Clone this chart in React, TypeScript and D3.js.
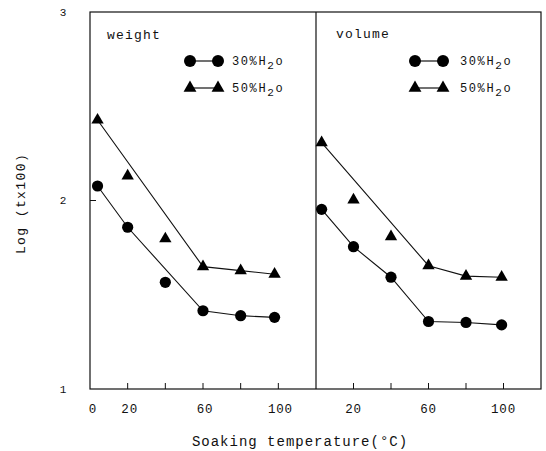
import React, { useEffect, useRef } from 'react';
import * as d3 from 'd3';

// soaking temperatures (°C)
const weightTemps = [4, 20, 40, 60, 80, 98];
const volumeTemps = [3, 20, 40, 60, 80, 99];

// Log(t x 100)
const weight30 = [2.077, 1.858, 1.566, 1.415, 1.389, 1.38];
const weight50 = [2.427, 2.13, 1.797, 1.649, 1.628, 1.609];
const volume30 = [1.953, 1.755, 1.593, 1.358, 1.353, 1.34];
const volume50 = [2.307, 2.003, 1.808, 1.654, 1.599, 1.593];

// which points the drawn (fitted) line runs through
const weight30Fit = [0, 1, 3, 4, 5];
const weight50Fit = [0, 3, 4, 5];
const volume30Fit = [0, 1, 2, 3, 4, 5];
const volume50Fit = [0, 3, 4, 5];

const xTicks = [20, 40, 60, 80, 100];
const leftTickLabels = [0, 20, 60, 100];
const rightTickLabels = [20, 60, 100];
const yTickLabels = [1, 2, 3];
const legendLabels = ['30%H', '50%H'];

const W = 546;
const H = 451;
const MONO = '"Liberation Mono", "DejaVu Sans Mono", monospace';

function App() {
  const svgRef = useRef<SVGSVGElement>(null);

  useEffect(() => {
    const svg = d3.select(svgRef.current);
    svg.selectAll('*').remove();

    const top = 12, bottom = 389, left = 90, mid = 316, right = 541;
    const y = d3.scaleLinear().domain([1, 3]).range([bottom, top]);
    const xL = d3.scaleLinear().domain([0, 120]).range([left, mid]);
    const xR = d3.scaleLinear().domain([0, 120]).range([mid, right]);

    const g = svg.append('g');

    // frame + divider
    g.append('rect')
      .attr('x', left).attr('y', top)
      .attr('width', right - left).attr('height', bottom - top)
      .attr('fill', 'none').attr('stroke', '#111').attr('stroke-width', 1.2);
    g.append('line')
      .attr('x1', mid).attr('x2', mid).attr('y1', top).attr('y2', bottom)
      .attr('stroke', '#111').attr('stroke-width', 1.2);

    // x ticks (inward)
    [xL, xR].forEach(x => {
      g.selectAll(null).data(xTicks).enter().append('line')
        .attr('x1', d => x(d)).attr('x2', d => x(d))
        .attr('y1', bottom).attr('y2', bottom - 6)
        .attr('stroke', '#111').attr('stroke-width', 1);
    });
    // y tick at 2
    g.append('line')
      .attr('x1', left).attr('x2', left + 6)
      .attr('y1', y(2)).attr('y2', y(2))
      .attr('stroke', '#111').attr('stroke-width', 1);

    // tick labels
    const tickText = (sel: any) => sel
      .attr('font-family', MONO).attr('font-size', 12.5)
      .attr('letter-spacing', 0.8).attr('fill', '#111')
      .attr('text-anchor', 'middle').attr('dy', '0.35em');
    g.selectAll(null).data(leftTickLabels).enter().append('text')
      .attr('x', d => xL(d) + (d === 0 ? 3 : 2)).attr('y', 409)
      .text(d => d).call(tickText);
    g.selectAll(null).data(rightTickLabels).enter().append('text')
      .attr('x', d => xR(d)).attr('y', 409)
      .text(d => d).call(tickText);
    g.selectAll(null).data(yTickLabels).enter().append('text')
      .attr('x', 63).attr('y', d => y(d))
      .text(d => d)
      .attr('font-family', MONO).attr('font-size', 11).attr('fill', '#111')
      .attr('text-anchor', 'middle').attr('dy', '0.35em');

    // axis titles
    g.append('text')
      .attr('x', 300).attr('y', 446)
      .attr('text-anchor', 'middle')
      .attr('font-family', MONO).attr('font-size', 14).attr('letter-spacing', 1)
      .attr('fill', '#111')
      .text('Soaking temperature(°C)');
    g.append('text')
      .attr('transform', `translate(25,${y(2) + 3}) rotate(-90)`)
      .attr('text-anchor', 'middle')
      .attr('font-family', MONO).attr('font-size', 13).attr('letter-spacing', 1.4)
      .attr('fill', '#111')
      .text('Log (tx100)');

    // panel labels
    g.append('text').attr('x', 107).attr('y', 39)
      .attr('font-family', MONO).attr('font-size', 13).attr('letter-spacing', 1.2)
      .attr('fill', '#111').text('weight');
    g.append('text').attr('x', 336).attr('y', 38)
      .attr('font-family', MONO).attr('font-size', 13).attr('letter-spacing', 1.2)
      .attr('fill', '#111').text('volume');

    const tri = d3.symbol().type(d3.symbolTriangle).size(66);
    const triLegend = d3.symbol().type(d3.symbolTriangle).size(72);

    // series
    const panels = [
      { x: xL, temps: weightTemps, s30: weight30, s50: weight50, f30: weight30Fit, f50: weight50Fit },
      { x: xR, temps: volumeTemps, s30: volume30, s50: volume50, f30: volume30Fit, f50: volume50Fit },
    ];
    panels.forEach(p => {
      const mk = (vals: number[]) => d3.line<number>()
        .x(i => p.x(p.temps[i]))
        .y(i => y(vals[i]));
      g.append('path').attr('d', mk(p.s50)(p.f50))
        .attr('fill', 'none').attr('stroke', '#111').attr('stroke-width', 1.1);
      g.append('path').attr('d', mk(p.s30)(p.f30))
        .attr('fill', 'none').attr('stroke', '#111').attr('stroke-width', 1.1);

      g.selectAll(null).data(p.s30).enter().append('circle')
        .attr('cx', (d, i) => p.x(p.temps[i]))
        .attr('cy', d => y(d))
        .attr('r', 5.6).attr('fill', '#000');
      g.selectAll(null).data(p.s50).enter().append('path')
        .attr('transform', (d, i) => `translate(${p.x(p.temps[i])},${y(d)})`)
        .attr('d', tri as any).attr('fill', '#000');
    });

    // legends
    const legends = [{ x0: 190, tx: 232 }, { x0: 415, tx: 460 }];
    legends.forEach(l => {
      [61, 88].forEach((ly, k) => {
        g.append('line')
          .attr('x1', l.x0).attr('x2', l.x0 + 28).attr('y1', ly).attr('y2', ly)
          .attr('stroke', '#111').attr('stroke-width', 1.2);
        [l.x0, l.x0 + 28].forEach(cx => {
          if (k === 0) {
            g.append('circle').attr('cx', cx).attr('cy', ly).attr('r', 6).attr('fill', '#000');
          } else {
            g.append('path').attr('transform', `translate(${cx},${ly})`)
              .attr('d', triLegend as any).attr('fill', '#000');
          }
        });
        const t = g.append('text').attr('x', l.tx).attr('y', ly + 4)
          .attr('font-family', MONO).attr('font-size', 12).attr('letter-spacing', 1.6)
          .attr('fill', '#111');
        t.append('tspan').text(legendLabels[k]);
        t.append('tspan').attr('dy', 4).attr('font-size', 11).text('2');
        t.append('tspan').attr('dy', -4).text('o');
      });
    });
  }, []);

  return (
    <svg
      ref={svgRef}
      width={W}
      height={H}
      style={{ position: 'absolute', left: 0, top: 0, background: '#fff' }}
    />
  );
}

export default App;
